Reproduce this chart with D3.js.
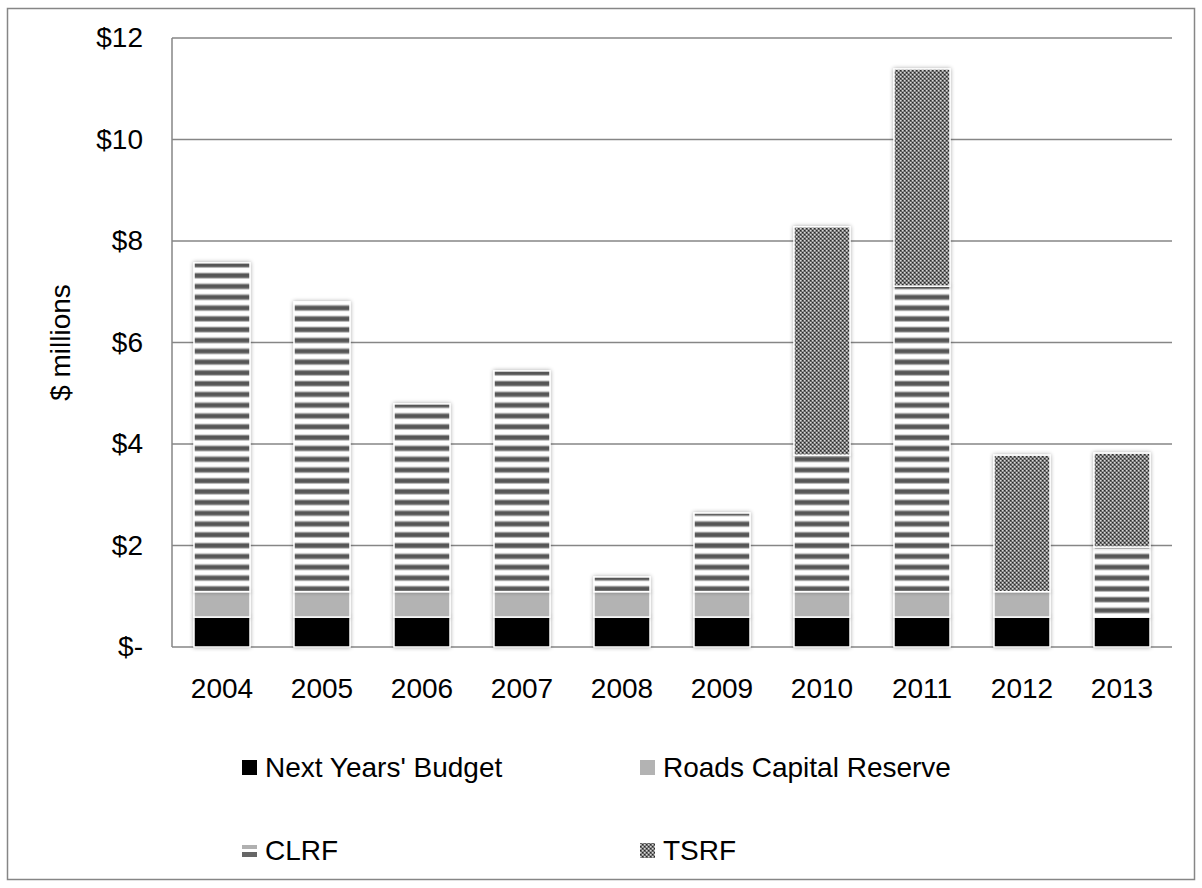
<!DOCTYPE html>
<html>
<head>
<meta charset="utf-8">
<script src="https://cdn.jsdelivr.net/npm/d3@7"></script>
<style>
  html, body { margin: 0; padding: 0; background: #fff; }
  svg { display: block; font-family: "Liberation Sans", Arial, sans-serif; }
</style>
</head>
<body>
<svg id="chart" width="1202" height="888"></svg>
<script>
// Funding sources by year, $ millions
const years = ["2004", "2005", "2006", "2007", "2008", "2009", "2010", "2011", "2012", "2013"];
const nextYearsBudget = [0.59, 0.59, 0.59, 0.59, 0.59, 0.59, 0.59, 0.59, 0.59, 0.59];
const roadsCapitalReserve = [0.5, 0.5, 0.5, 0.5, 0.5, 0.5, 0.5, 0.5, 0.5, 0];
const clrf = [6.48, 5.71, 3.70, 4.35, 0.29, 1.55, 2.69, 6.02, 0, 1.38];
const tsrf = [0, 0, 0, 0, 0, 0, 4.50, 4.28, 2.69, 1.85];
const seriesNames = ["Next Years' Budget", "Roads Capital Reserve", "CLRF", "TSRF"];
const yTicks = [0, 2, 4, 6, 8, 10, 12];

const FONT = 28;
const svg = d3.select("#chart");
const defs = svg.append("defs");

// horizontal stripe fill
const stripe = defs.append("pattern").attr("id", "stripes")
  .attr("patternUnits", "userSpaceOnUse").attr("width", 8).attr("height", 10.8);
stripe.append("rect").attr("width", 8).attr("height", 10.8).attr("fill", "#ffffff");
stripe.append("rect").attr("y", 2.6).attr("width", 8).attr("height", 6).attr("fill", "#a8a8a8");
stripe.append("rect").attr("y", 3.6).attr("width", 8).attr("height", 4).attr("fill", "#575757");

// small checker fill
const check = defs.append("pattern").attr("id", "checker")
  .attr("patternUnits", "userSpaceOnUse").attr("width", 4).attr("height", 4);
check.append("rect").attr("width", 4).attr("height", 4).attr("fill", "#666666");
check.append("rect").attr("x", 0).attr("y", 0).attr("width", 1.5).attr("height", 1.5).attr("fill", "#d8d8d8");
check.append("rect").attr("x", 2).attr("y", 2).attr("width", 1.5).attr("height", 1.5).attr("fill", "#d8d8d8");
check.append("rect").attr("x", 2).attr("y", 0).attr("width", 1).attr("height", 1).attr("fill", "#2a2a2a");
check.append("rect").attr("x", 0).attr("y", 2).attr("width", 1).attr("height", 1).attr("fill", "#2a2a2a");

// soft shadow around bars
const f = defs.append("filter").attr("id", "shadow")
  .attr("x", "-20%").attr("y", "-20%").attr("width", "140%").attr("height", "140%");
f.append("feGaussianBlur").attr("in", "SourceAlpha").attr("stdDeviation", 2).attr("result", "b");
f.append("feComponentTransfer").attr("in", "b").attr("result", "s")
  .append("feFuncA").attr("type", "linear").attr("slope", 0.35);
const fm = f.append("feMerge");
fm.append("feMergeNode").attr("in", "s");
fm.append("feMergeNode").attr("in", "SourceGraphic");

const fills = ["#000000", "#b3b3b3", "url(#stripes)", "url(#checker)"];

// outer frame
svg.append("rect").attr("x", 7.5).attr("y", 8.5).attr("width", 1187).attr("height", 871)
  .attr("fill", "#fff").attr("stroke", "#868686").attr("stroke-width", 1.5);

const plot = { left: 172, right: 1172, top: 38, bottom: 647 };

const x = d3.scaleBand().domain(years).range([plot.left, plot.right]).paddingInner(0.44).paddingOuter(0.22);
const y = d3.scaleLinear().domain([0, 12]).range([plot.bottom, plot.top]);

// gridlines
svg.append("g").selectAll("line").data(yTicks).join("line")
  .attr("x1", plot.left).attr("x2", plot.right)
  .attr("y1", d => y(d)).attr("y2", d => y(d))
  .attr("stroke", "#868686").attr("stroke-width", 1.5);

// y axis line
svg.append("line").attr("x1", plot.left).attr("x2", plot.left)
  .attr("y1", plot.top).attr("y2", plot.bottom)
  .attr("stroke", "#868686").attr("stroke-width", 1.5);

// y tick labels
const yAxis = d3.axisLeft(y).tickValues(yTicks).tickSize(0).tickPadding(29)
  .tickFormat(d => d === 0 ? "$-" : "$" + d);
const gy = svg.append("g").attr("transform", `translate(${plot.left},0)`).call(yAxis);
gy.select(".domain").remove();
gy.selectAll("text").attr("font-size", FONT).attr("fill", "#000")
  .attr("font-family", "'Liberation Sans', Arial, sans-serif");

// x tick labels
const xAxis = d3.axisBottom(x).tickSize(0).tickPadding(31);
const gx = svg.append("g").attr("transform", `translate(0,${plot.bottom})`).call(xAxis);
gx.select(".domain").remove();
gx.selectAll("text").attr("font-size", FONT).attr("fill", "#000")
  .attr("font-family", "'Liberation Sans', Arial, sans-serif");

// axis title
svg.append("text").attr("transform", `translate(70,${(plot.top + plot.bottom) / 2}) rotate(-90)`)
  .attr("text-anchor", "middle").attr("font-size", FONT).text("$ millions");

// stacked bars
const rows = years.map((yr, i) => ({
  year: yr, s0: nextYearsBudget[i], s1: roadsCapitalReserve[i], s2: clrf[i], s3: tsrf[i]
}));
const stack = d3.stack().keys(["s0", "s1", "s2", "s3"]);
const layers = stack(rows);

const barG = svg.append("g");
layers.forEach((layer, k) => {
  barG.append("g").attr("filter", "url(#shadow)").selectAll("rect")
    .data(layer.filter(d => d[1] - d[0] > 0)).join("rect")
    .attr("x", d => x(d.data.year))
    .attr("width", x.bandwidth())
    .attr("y", d => y(d[1]))
    .attr("height", d => y(d[0]) - y(d[1]))
    .attr("fill", fills[k])
    .attr("stroke", "#ffffff").attr("stroke-width", 1.5);
});

// legend
const legendItems = [
  { name: seriesNames[0], fill: fills[0], x: 242, y: 777 },
  { name: seriesNames[1], fill: fills[1], x: 640, y: 777 },
  { name: seriesNames[2], fill: fills[2], x: 242, y: 860 },
  { name: seriesNames[3], fill: fills[3], x: 640, y: 860 }
];
const lg = svg.append("g").selectAll("g").data(legendItems).join("g")
  .attr("transform", d => `translate(${d.x},${d.y})`);
lg.each(function(d, i) {
  const g = d3.select(this);
  if (i === 2) {
    g.append("rect").attr("x", 0).attr("y", -15).attr("width", 15).attr("height", 4).attr("fill", "#b0b0b0");
    g.append("rect").attr("x", 0).attr("y", -8).attr("width", 15).attr("height", 5).attr("fill", "#666");
  } else {
    g.append("rect").attr("x", 0).attr("y", -17).attr("width", 15).attr("height", 15).attr("fill", d.fill);
  }
  g.append("text").attr("x", 23).attr("y", 0).attr("font-size", FONT).text(d.name);
});
</script>
</body>
</html>
